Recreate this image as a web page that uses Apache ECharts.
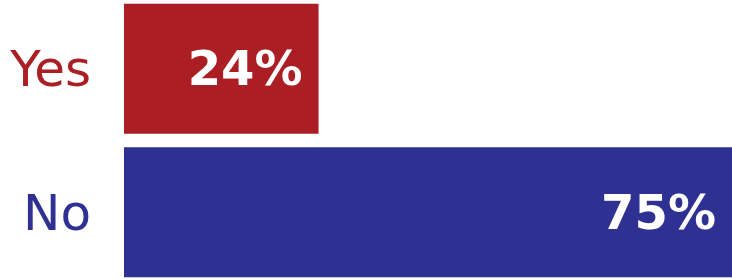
<!DOCTYPE html>
<html>
<head>
<meta charset="utf-8">
<script src="https://cdn.jsdelivr.net/npm/echarts@6/dist/echarts.min.js"></script>
<style>
html, body { margin: 0; padding: 0; background: #fff; }
#container { width: 732px; height: 279px; }
</style>
</head>
<body>
<div id="container"></div>
<script>
var categories = ['Yes', 'No'];
var values = [24, 75];
var colors = ['#AB1F24', '#2E3192'];

var chart = echarts.init(document.getElementById('container'));

var option = {
    animation: false,
    grid: { left: 124, right: 0, top: -3, bottom: -5, outerBoundsMode: 'none' },
    xAxis: {
        type: 'value',
        min: 0,
        max: 75,
        show: false
    },
    yAxis: {
        type: 'category',
        inverse: true,
        data: categories,
        axisLine: { show: false },
        axisTick: { show: false },
        axisLabel: {
            margin: 33,
            formatter: function (value) {
                return '{' + value + '|' + value + '}';
            },
            rich: {
                Yes: { color: colors[0], fontFamily: 'DejaVu Sans', fontSize: 50, padding: [9, 0, 0, 0] },
                No: { color: colors[1], fontFamily: 'DejaVu Sans', fontSize: 50, padding: [9, 0, 0, 0] }
            }
        }
    },
    series: [{
        type: 'bar',
        barWidth: 130,
        data: values.map(function (v, i) {
            return { value: v, itemStyle: { color: colors[i] } };
        }),
        label: {
            show: true,
            position: 'insideRight',
            distance: 16,
            offset: [0, 4],
            color: '#fff',
            fontFamily: 'DejaVu Sans',
            fontWeight: 'bold',
            fontSize: 48,
            formatter: '{c}%'
        }
    }]
};

chart.setOption(option);
</script>
</body>
</html>
